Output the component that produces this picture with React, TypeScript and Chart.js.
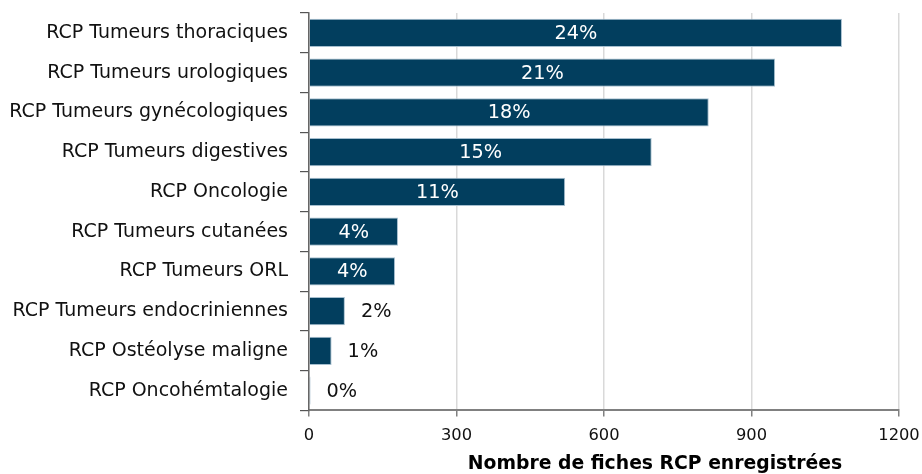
import React, { useEffect, useRef } from "react";
import { Chart, registerables } from "chart.js";

Chart.register(...registerables);

const categories = [
  "RCP Tumeurs thoraciques",
  "RCP Tumeurs urologiques",
  "RCP Tumeurs gynécologiques",
  "RCP Tumeurs digestives",
  "RCP Oncologie",
  "RCP Tumeurs cutanées",
  "RCP Tumeurs ORL",
  "RCP Tumeurs endocriniennes",
  "RCP Ostéolyse maligne",
  "RCP Oncohémtalogie",
];
const counts = [1084, 948, 813, 697, 521, 181, 175, 73, 46, 3];
const percentLabels = ["24%", "21%", "18%", "15%", "11%", "4%", "4%", "2%", "1%", "0%"];
const xTicks = [0, 300, 600, 900, 1200];
const xTitle = "Nombre de fiches RCP enregistrées";

const FONT = "'DejaVu Sans', Verdana, sans-serif";

const labelPlugin = {
  id: "barLabels",
  afterDatasetsDraw(chart: any) {
    const ctx = chart.ctx;
    const meta = chart.getDatasetMeta(0);
    ctx.save();
    ctx.font = `19.3px ${FONT}`;
    ctx.textBaseline = "middle";
    meta.data.forEach((bar: any, i: number) => {
      const text = percentLabels[i];
      const w = ctx.measureText(text).width;
      const left = Math.min(bar.x, bar.base);
      const right = Math.max(bar.x, bar.base);
      const bw = right - left;
      if (bw > w + 20) {
        ctx.fillStyle = "#ffffff";
        ctx.textAlign = "center";
        ctx.fillText(text, (left + right) / 2, bar.y + 1);
      } else {
        ctx.fillStyle = "#111111";
        ctx.textAlign = "left";
        ctx.fillText(text, right + 16, bar.y + 1);
      }
    });
    ctx.restore();
  },
};

const titlePlugin = {
  id: "xTitle",
  afterDraw(chart: any) {
    const ctx = chart.ctx;
    const area = chart.chartArea;
    ctx.save();
    ctx.font = `bold 18.8px ${FONT}`;
    ctx.fillStyle = "#000000";
    ctx.textAlign = "center";
    ctx.textBaseline = "alphabetic";
    const cx = (area.left + area.right) / 2 + 51;
    ctx.fillText(xTitle, cx, chart.height - 5);
    ctx.restore();
  },
};

export default function App() {
  const ref = useRef<HTMLCanvasElement | null>(null);
  useEffect(() => {
    document.body.style.margin = "0";
    const canvas = ref.current;
    if (!canvas) return;
    const chart = new Chart(canvas, {
      type: "bar",
      data: {
        labels: categories,
        datasets: [
          {
            data: counts,
            backgroundColor: "#023e5e",
            borderColor: "#a6bfcf",
            borderWidth: 1,
            barPercentage: 0.71,
            categoryPercentage: 1,
          },
        ],
      },
      options: {
        indexAxis: "y",
        animation: false,
        responsive: false,
        maintainAspectRatio: false,
        layout: { padding: { top: 13, right: 23, left: 2, bottom: 18 } },
        plugins: {
          legend: { display: false },
          tooltip: { enabled: false },
        },
        scales: {
          x: {
            min: 0,
            max: 1200,
            afterBuildTicks: (axis: any) => {
              axis.ticks = xTicks.map((v) => ({ value: v }));
            },
            afterFit: (scale: any) => {
              scale.paddingLeft = 0;
              scale.paddingRight = 0;
            },
            grid: {
              color: "#d9d9d9",
              lineWidth: 1.5,
              tickColor: "#808080",
              tickLength: 6,
              drawOnChartArea: true,
            },
            border: { display: true, color: "#808080", width: 2 },
            ticks: {
              color: "#111111",
              font: { family: FONT, size: 16.3 },
              padding: 10,
              maxRotation: 0,
              callback: (v: any) => String(v),
            },
          },
          y: {
            afterFit: (scale: any) => {
              scale.paddingTop = 0;
              scale.paddingBottom = 0;
              scale.width = 307;
            },
            grid: {
              offset: true,
              drawOnChartArea: false,
              color: "#555555",
              tickLength: 9,
              lineWidth: 1.2,
            },
            border: { display: true, color: "#666666", width: 1.5 },
            ticks: {
              color: "#111111",
              font: { family: FONT, size: 19 },
              padding: 12,
            },
          },
        },
      },
      plugins: [labelPlugin, titlePlugin],
    });
    return () => chart.destroy();
  }, []);
  return (
    <div style={{ width: 922, height: 474 }}>
      <canvas ref={ref} width={922} height={474} style={{ display: "block" }} />
    </div>
  );
}
